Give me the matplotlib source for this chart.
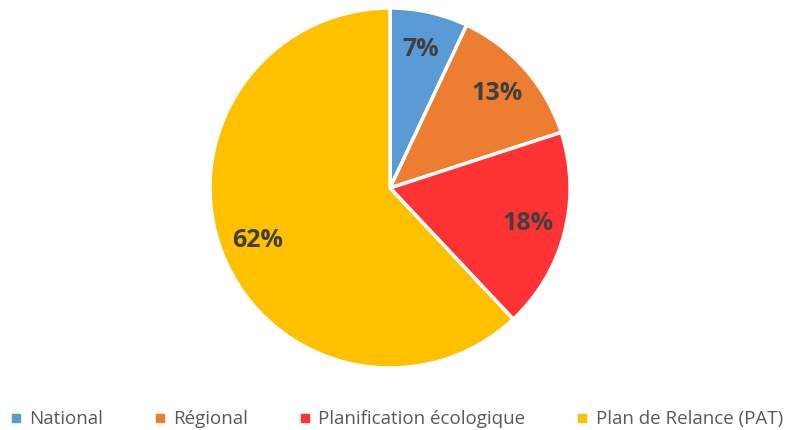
import numpy as np
import matplotlib.pyplot as plt
from matplotlib.lines import Line2D

labels = ['National', 'Régional', 'Planification écologique', 'Plan de Relance (PAT)']
values = [7, 13, 18, 62]
colors = ['#5B9BD5', '#ED7D31', '#FF3333', '#FFC000']

plt.rcParams['font.family'] = ['Open Sans', 'DejaVu Sans']

fig = plt.figure(figsize=(7.89, 4.30), dpi=100)
ax = fig.add_axes([0.2662, 0.1442, 0.4563, 0.8372])
wedges, texts = ax.pie(values, colors=colors, startangle=90, counterclock=False,
                       wedgeprops={'edgecolor': 'white', 'linewidth': 2.5})
for w, v in zip(wedges, values):
    ang = np.deg2rad((w.theta1 + w.theta2) / 2)
    ax.text(0.79 * np.cos(ang), 0.79 * np.sin(ang), f'{v}%', ha='center', va='center',
            fontsize=18, fontweight='bold', color='#404040')
ax.set_xlim(-1.0, 1.0)
ax.set_ylim(-1.0, 1.0)
ax.set_aspect('equal')
ax.axis('off')

handles = [Line2D([], [], marker='s', linestyle='none', markersize=6, color=c) for c in colors]
fig.legend(handles, labels, loc='lower center', ncol=4, frameon=False, fontsize=13.5,
           labelcolor='#595959', bbox_to_anchor=(0.5, -0.035), handletextpad=0.2,
           handlelength=1.0, columnspacing=2.55)
fig.savefig('out.png', dpi=100)
